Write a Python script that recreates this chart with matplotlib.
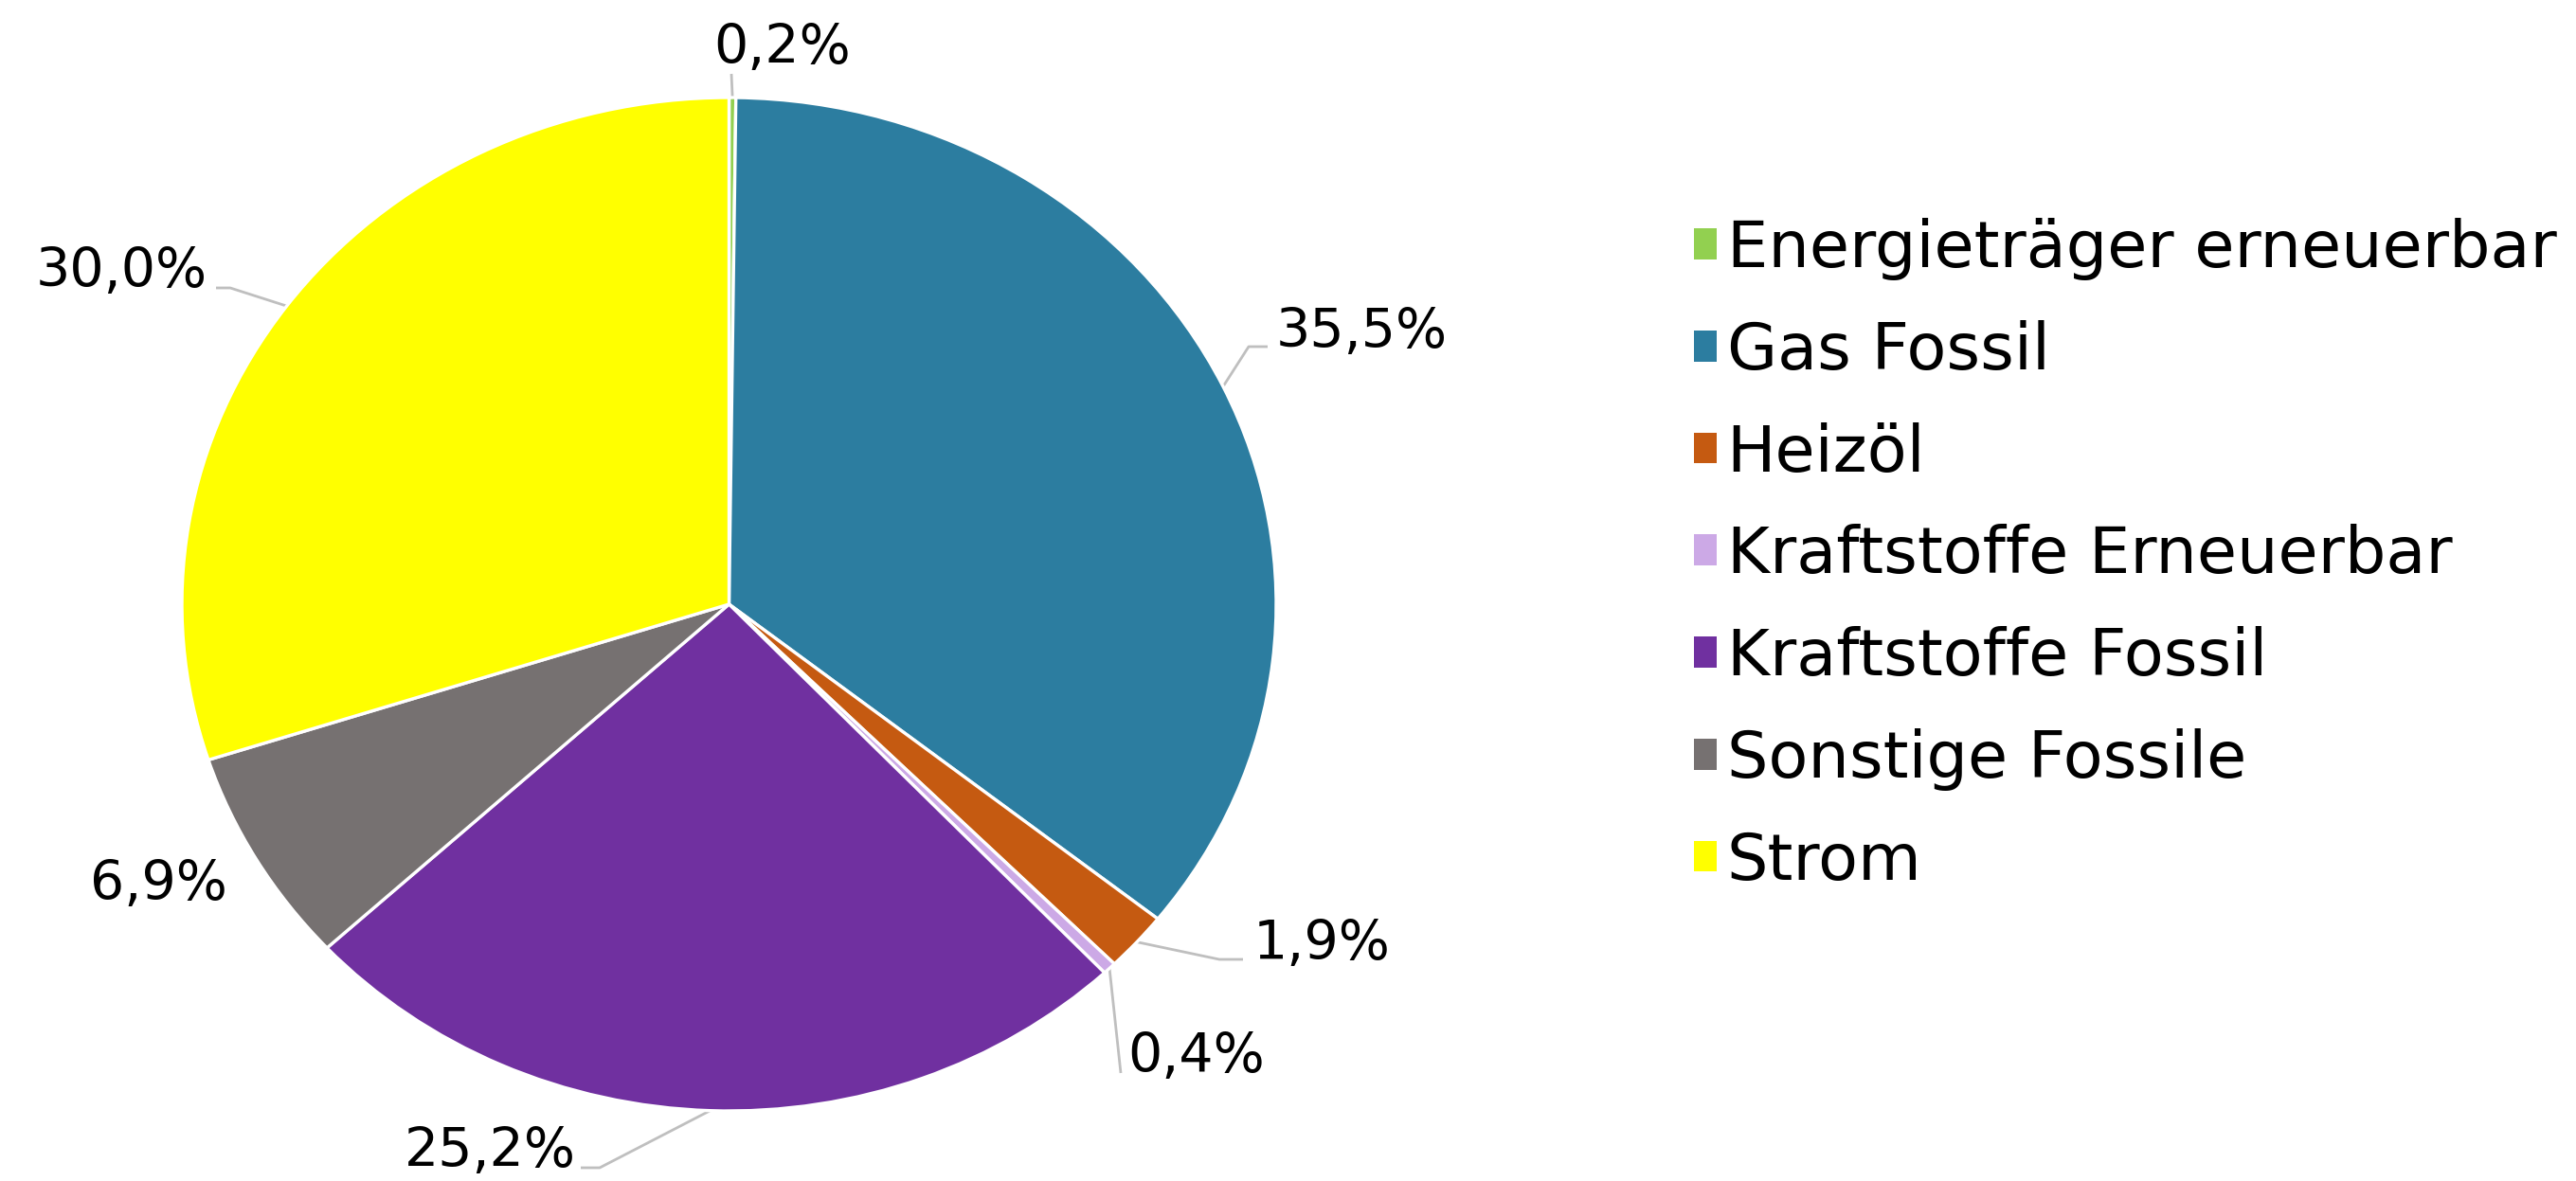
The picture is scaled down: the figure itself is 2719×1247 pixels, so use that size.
import numpy as np
import matplotlib
matplotlib.use("Agg")
import matplotlib.pyplot as plt
from matplotlib.patches import Patch

# ---- data ----
categories = ["Energieträger erneuerbar", "Gas Fossil", "Heizöl", "Kraftstoffe Erneuerbar",
              "Kraftstoffe Fossil", "Sonstige Fossile", "Strom"]
values = [0.2, 35.5, 1.9, 0.4, 25.2, 6.9, 30.0]
colors = ["#92D050", "#2C7DA0", "#C55A11", "#CCA9E6", "#7030A0", "#767171", "#FFFF00"]

# ---- layout (pixels in the 2719x1247 canvas) ----
W, H = 2719, 1247
CX, CY, RX, RY = 769.5, 638.0, 577.5, 535.0
# label text left/baseline, leader end point, elbow horizontal offset (None = no leader)
label_pos = [(753, 67), (1347, 367), (1323, 1013), (1190, 1132), (427, 1232), (95, 950), (38, 303)]
leader_end = [(772, 78), (1338, 366), (1312, 1013), (1183, 1133), (613, 1233), None, (228, 304)]
elbow_dx = [0, -20, -25, 0, 20, 0, 15]

def px(x, y):
    return ((x - CX) / RX, (CY - y) / RY)

fig = plt.figure(figsize=(W / 100, H / 100), dpi=100)
ax = fig.add_axes([0, 0, 1, 1])
wedges, _ = ax.pie(values, colors=colors, startangle=90, counterclock=False,
                   wedgeprops=dict(edgecolor="white", linewidth=2.4))
ax.set_aspect("auto")
ax.set_xlim(-CX / RX, (W - CX) / RX)
ax.set_ylim((CY - H) / RY, CY / RY)
ax.axis("off")

line_col = "#BFBFBF"
for w, v, lp, le, edx in zip(wedges, values, label_pos, leader_end, elbow_dx):
    th = np.deg2rad((w.theta1 + w.theta2) / 2)
    ax_, ay_ = np.cos(th), np.sin(th)
    txt = f"{v:.1f}%".replace(".", ",")
    tx, ty = px(*lp)
    ax.text(tx, ty, txt, ha="left", va="baseline", fontsize=41, color="black",
            family="DejaVu Sans")
    if le is not None:
        ex, ey = px(*le)
        bx, by = px(le[0] + edx, le[1])
        ax.plot([ax_, bx, ex], [ay_, by, ey], color=line_col, lw=2, solid_capstyle="butt",
                zorder=0.5)

handles = [Patch(facecolor=c, edgecolor="none") for c in colors]
fig.legend(handles, categories, loc="upper left",
           bbox_to_anchor=(1788 / W, 1 - 230 / H), frameon=False, fontsize=49.3,
           handlelength=0.355, handleheight=0.355, handletextpad=0.15,
           labelspacing=0.61, borderpad=0, borderaxespad=0)

fig.savefig("out.png", dpi=100, facecolor="white")
